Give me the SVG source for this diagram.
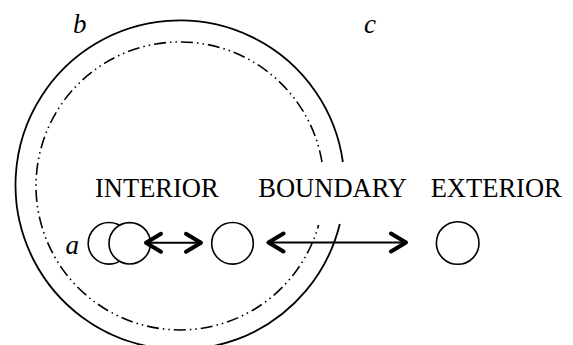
<svg xmlns="http://www.w3.org/2000/svg" width="573" height="345" viewBox="0 0 573 345">
<style>
.lbl{font-family:"Liberation Serif","Times New Roman",serif;font-size:26.5px;fill:#000}
.it{font-family:"Liberation Serif","Times New Roman",serif;font-size:27px;font-style:italic;fill:#000}
.ring{fill:none;stroke:#000;stroke-width:1.8}
.dd{fill:none;stroke:#000;stroke-width:1.6;stroke-dasharray:12 4 1.5 4 1.5 4}
.node{fill:#fff;stroke:#000;stroke-width:1.6}
.arr{stroke:#000;stroke-width:2;fill:none}
</style>
<defs>
<marker id="chev" viewBox="-20 -12 24 24" refX="1" refY="0" markerWidth="24" markerHeight="24" markerUnits="userSpaceOnUse" orient="auto-start-reverse">
<path d="M-15,-9 L0,0 L-15,9" fill="none" stroke="#000" stroke-width="4" stroke-linecap="round" stroke-linejoin="round"/>
</marker>
</defs>
<rect width="573" height="345" fill="#fff"/>
<g id="regions">
<path id="outer-ring" class="ring" d="M342.9,162 A164.5,164.5 0 1 0 339.8,224"/>
<path id="inner-ring" class="dd" d="M322,162 A144,144 0 1 0 318.6,225"/>
</g>
<g id="labels">
<text class="lbl" x="95" y="196.7">INTERIOR</text>
<text class="lbl" x="258.3" y="196.7">BOUNDARY</text>
<text class="lbl" x="430.7" y="196.7">EXTERIOR</text>
<text class="it" x="73" y="33">b</text>
<text class="it" x="364" y="32.5">c</text>
<text class="it" x="65.5" y="253.5">a</text>
</g>
<g id="node-interior">
<circle class="node" cx="109" cy="243.3" r="20.8"/>
<circle class="node" cx="129.7" cy="243.3" r="20.7"/>
</g>
<g id="node-boundary">
<circle class="node" cx="232.5" cy="243.3" r="20.8"/>
</g>
<g id="node-exterior">
<circle class="node" cx="457.7" cy="243" r="21.3"/>
</g>
<g id="connectors">
<line class="arr" x1="145" y1="242.8" x2="202" y2="242.8" marker-start="url(#chev)" marker-end="url(#chev)"/>
<line class="arr" x1="267.5" y1="242.5" x2="407" y2="242.5" marker-start="url(#chev)" marker-end="url(#chev)"/>
</g>
</svg>
